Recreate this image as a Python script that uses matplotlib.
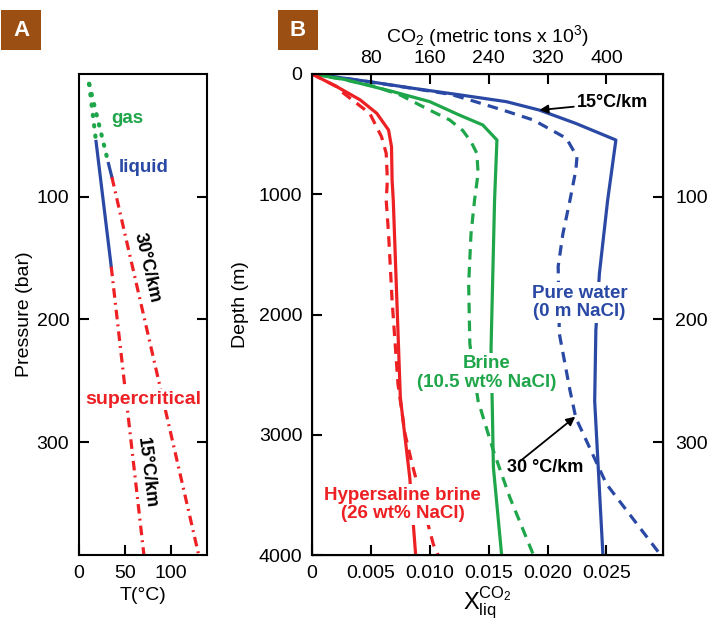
import matplotlib
matplotlib.use("Agg")
import matplotlib.pyplot as plt
from matplotlib.patches import Rectangle

plt.rcParams['font.family'] = ['Liberation Sans', 'DejaVu Sans']
plt.rcParams['mathtext.fontset'] = 'custom'
plt.rcParams['mathtext.rm'] = 'Liberation Sans'
plt.rcParams['mathtext.it'] = 'Liberation Sans:italic'

RED = '#ED2024'
GREEN = '#1FA64A'
BLUE = '#2A49A5'
BROWN = '#9C4F12'

# ---- panel A: P-T paths (bar, degC) ----
g15_gas_P = [8, 55]
g15_gas_T = [11, 18.5]
g15_liq_P = [55, 157]
g15_liq_T = [18.5, 35]
g15_sc_P = [157, 392]
g15_sc_T = [35, 70.5]

g30_gas_P = [8, 73]
g30_gas_T = [11, 32]
g30_liq_P = [73, 84]
g30_liq_T = [32, 35.7]
g30_sc_P = [84, 392]
g30_sc_T = [35.7, 130]

# ---- panel B: CO2 solubility vs depth ----
pure15_d = [0, 20, 64, 119, 170, 230, 300, 411, 549, 1050, 1660, 2130, 2720, 3270, 4000]
pure15_x = [0, 0.0016, 0.0049, 0.0086, 0.0123, 0.0165, 0.0193, 0.0224, 0.0258,
            0.0251, 0.0244, 0.0241, 0.0240, 0.0243, 0.0247]
pure30_d = [0, 20, 64, 119, 170, 216, 300, 383, 535, 688, 800, 1050, 1330, 1600,
            2160, 2630, 2860, 3410, 4000]
pure30_x = [0, 0.0016, 0.0048, 0.0085, 0.0118, 0.0134, 0.0162, 0.0188, 0.0216,
            0.0225, 0.0224, 0.0219, 0.0213, 0.0209, 0.0210, 0.0219, 0.0224, 0.0250, 0.0296]

brine15_d = [0, 44, 147, 230, 341, 424, 549, 1050, 2286, 2730, 3270, 4000]
brine15_x = [0, 0.0027, 0.0069, 0.0100, 0.0125, 0.0145, 0.0157, 0.0155, 0.0152,
             0.0153, 0.0154, 0.0161]
brine30_d = [0, 44, 100, 175, 286, 383, 470, 563, 660, 826, 1050, 1330, 1744,
             2244, 2717, 3133, 3522, 4000]
brine30_x = [0, 0.0026, 0.0052, 0.0075, 0.0097, 0.0117, 0.0128, 0.0135, 0.0140,
             0.0141, 0.0138, 0.0135, 0.0133, 0.0134, 0.0141, 0.0154, 0.0168, 0.0188]

hyper15_d = [0, 105, 216, 327, 466, 605, 882, 1050, 2690, 3356, 4000]
hyper15_x = [0, 0.0021, 0.0041, 0.0055, 0.0065, 0.00675, 0.0068, 0.0069, 0.0075,
             0.0083, 0.0088]
hyper30_d = [0, 105, 161, 327, 521, 660, 882, 1050, 1330, 1883, 2578, 2994, 3244,
             3911, 4000]
hyper30_x = [0, 0.0021, 0.0027, 0.0049, 0.0059, 0.0063, 0.0064, 0.0063, 0.0065,
             0.0068, 0.0073, 0.0079, 0.0085, 0.0103, 0.0107]

x_ticks = [0, 0.005, 0.010, 0.015, 0.020, 0.025]
x_ticklabels = ['0', '0.005', '0.010', '0.015', '0.020', '0.025']
co2_ticks = [80, 160, 240, 320, 400]
co2_per_x = 16000  # metric tons x10^3 per unit mole fraction
depth_ticks = [0, 1000, 2000, 3000, 4000]
p_ticks = [100, 200, 300]
p_max = 392
x_max = 0.0298

fs = 14
lw = 2.3
dashdot = (0, (3, 1.6, 0.6, 1.6))
dotted = (0, (0.3, 2.2))
dashed = (0, (3.3, 2.3))
label_box = dict(facecolor='white', edgecolor='none', pad=1.5)

fig = plt.figure(figsize=(7.09, 6.28), dpi=100)
axA = fig.add_axes([79 / 709, 1 - 555 / 628, 128 / 709, 481 / 628])
axB = fig.add_axes([312 / 709, 1 - 555 / 628, 351 / 709, 481 / 628])

# ---------------- panel A ----------------
for P, T in [(g15_gas_P, g15_gas_T), (g30_gas_P, g30_gas_T)]:
    axA.plot(T, P, color=GREEN, lw=3, linestyle=dotted, dash_capstyle='round')
for P, T in [(g15_liq_P, g15_liq_T), (g30_liq_P, g30_liq_T)]:
    axA.plot(T, P, color=BLUE, lw=lw)
for P, T in [(g15_sc_P, g15_sc_T), (g30_sc_P, g30_sc_T)]:
    axA.plot(T, P, color=RED, lw=lw, linestyle=dashdot)

axA.set_xlim(0, 139)
axA.set_ylim(p_max, 0)
axA.set_xticks([0, 50, 100])
axA.set_yticks(p_ticks)
axA.tick_params(direction='in', length=7, width=1.5, labelsize=fs, right=True, pad=7)
for s in axA.spines.values():
    s.set_linewidth(1.5)
axA.set_xlabel('T(°C)', fontsize=fs, labelpad=4)
axA.set_ylabel('Pressure (bar)', fontsize=fs)
axA.yaxis.set_label_coords(-0.36, 0.5)

axA.text(52, 36, 'gas', color=GREEN, fontsize=13.5, fontweight='bold', ha='center', va='center')
axA.text(70, 76, 'liquid', color=BLUE, fontsize=13.5, fontweight='bold', ha='center', va='center')
axA.text(74, 158, '30°C/km', color='black', fontsize=13, fontweight='bold',
         ha='center', va='center', rotation=-77)
axA.text(74, 325, '15°C/km', color='black', fontsize=13, fontweight='bold',
         ha='center', va='center', rotation=-83)
axA.text(70, 265, 'supercritical', color=RED, fontsize=14, fontweight='bold',
         ha='center', va='center', bbox=label_box, zorder=5)

# ---------------- panel B ----------------
axB.plot(pure15_x, pure15_d, color=BLUE, lw=lw)
axB.plot(pure30_x, pure30_d, color=BLUE, lw=lw, linestyle=dashed)
axB.plot(brine15_x, brine15_d, color=GREEN, lw=lw)
axB.plot(brine30_x, brine30_d, color=GREEN, lw=lw, linestyle=dashed)
axB.plot(hyper15_x, hyper15_d, color=RED, lw=lw)
axB.plot(hyper30_x, hyper30_d, color=RED, lw=lw, linestyle=dashed)

axB.set_xlim(0, x_max)
axB.set_ylim(4000, 0)
axB.set_xticks(x_ticks)
axB.set_xticklabels(x_ticklabels)
axB.set_yticks(depth_ticks)
axB.tick_params(direction='in', length=7, width=1.5, labelsize=fs, pad=7)
for s in axB.spines.values():
    s.set_linewidth(1.5)
axB.set_xlabel(r'$\mathrm{X}_{\mathrm{liq}}^{\mathrm{CO}_2}$', fontsize=17, labelpad=2)
axB.set_ylabel('Depth (m)', fontsize=fs)
axB.yaxis.set_label_coords(-0.18, 0.52)

axR = axB.twinx()
axR.set_ylim(p_max, 0)
axR.set_yticks(p_ticks)
axR.tick_params(direction='in', length=7, width=1.5, labelsize=fs, pad=9)

axT = axB.twiny()
axT.set_xlim(0, x_max * co2_per_x)
axT.set_xticks(co2_ticks)
axT.tick_params(direction='in', length=7, width=1.5, labelsize=fs, pad=5)
axT.set_xlabel(r'CO$_2$ (metric tons x 10$^3$)', fontsize=fs, labelpad=6)

lbl = dict(fontsize=13.5, fontweight='bold', ha='center', va='center',
           linespacing=1.15, bbox=label_box, zorder=5)
axB.text(0.0227, 1900, 'Pure water\n(0 m NaCl)', color=BLUE, **lbl)
axB.text(0.0148, 2490, 'Brine\n(10.5 wt% NaCl)', color=GREEN, **lbl)
axB.text(0.0077, 3580, 'Hypersaline brine\n(26 wt% NaCl)', color=RED, **lbl)

arrow = dict(arrowstyle='-|>', color='black', lw=1.3, mutation_scale=13, shrinkA=0, shrinkB=0)
axB.annotate('15°C/km', xy=(0.0193, 300), xytext=(0.02246, 241),
             fontsize=13, fontweight='bold', ha='left', va='center', arrowprops=arrow)
axB.annotate('', xy=(0.02235, 2850), xytext=(0.0176, 3225), arrowprops=arrow)
axB.text(0.0198, 3270, '30 °C/km', fontsize=13, fontweight='bold', ha='center', va='center')

# panel tags
for x0, tag in [(1, 'A'), (278, 'B')]:
    fig.patches.append(Rectangle((x0 / 709, 1 - 50 / 628), 40 / 709, 40 / 628,
                                 transform=fig.transFigure, facecolor=BROWN,
                                 edgecolor='none'))
    fig.text((x0 + 20) / 709, 1 - 30 / 628, tag, color='white', fontsize=16,
             fontweight='bold', ha='center', va='center')

fig.savefig('out.png', dpi=100)
